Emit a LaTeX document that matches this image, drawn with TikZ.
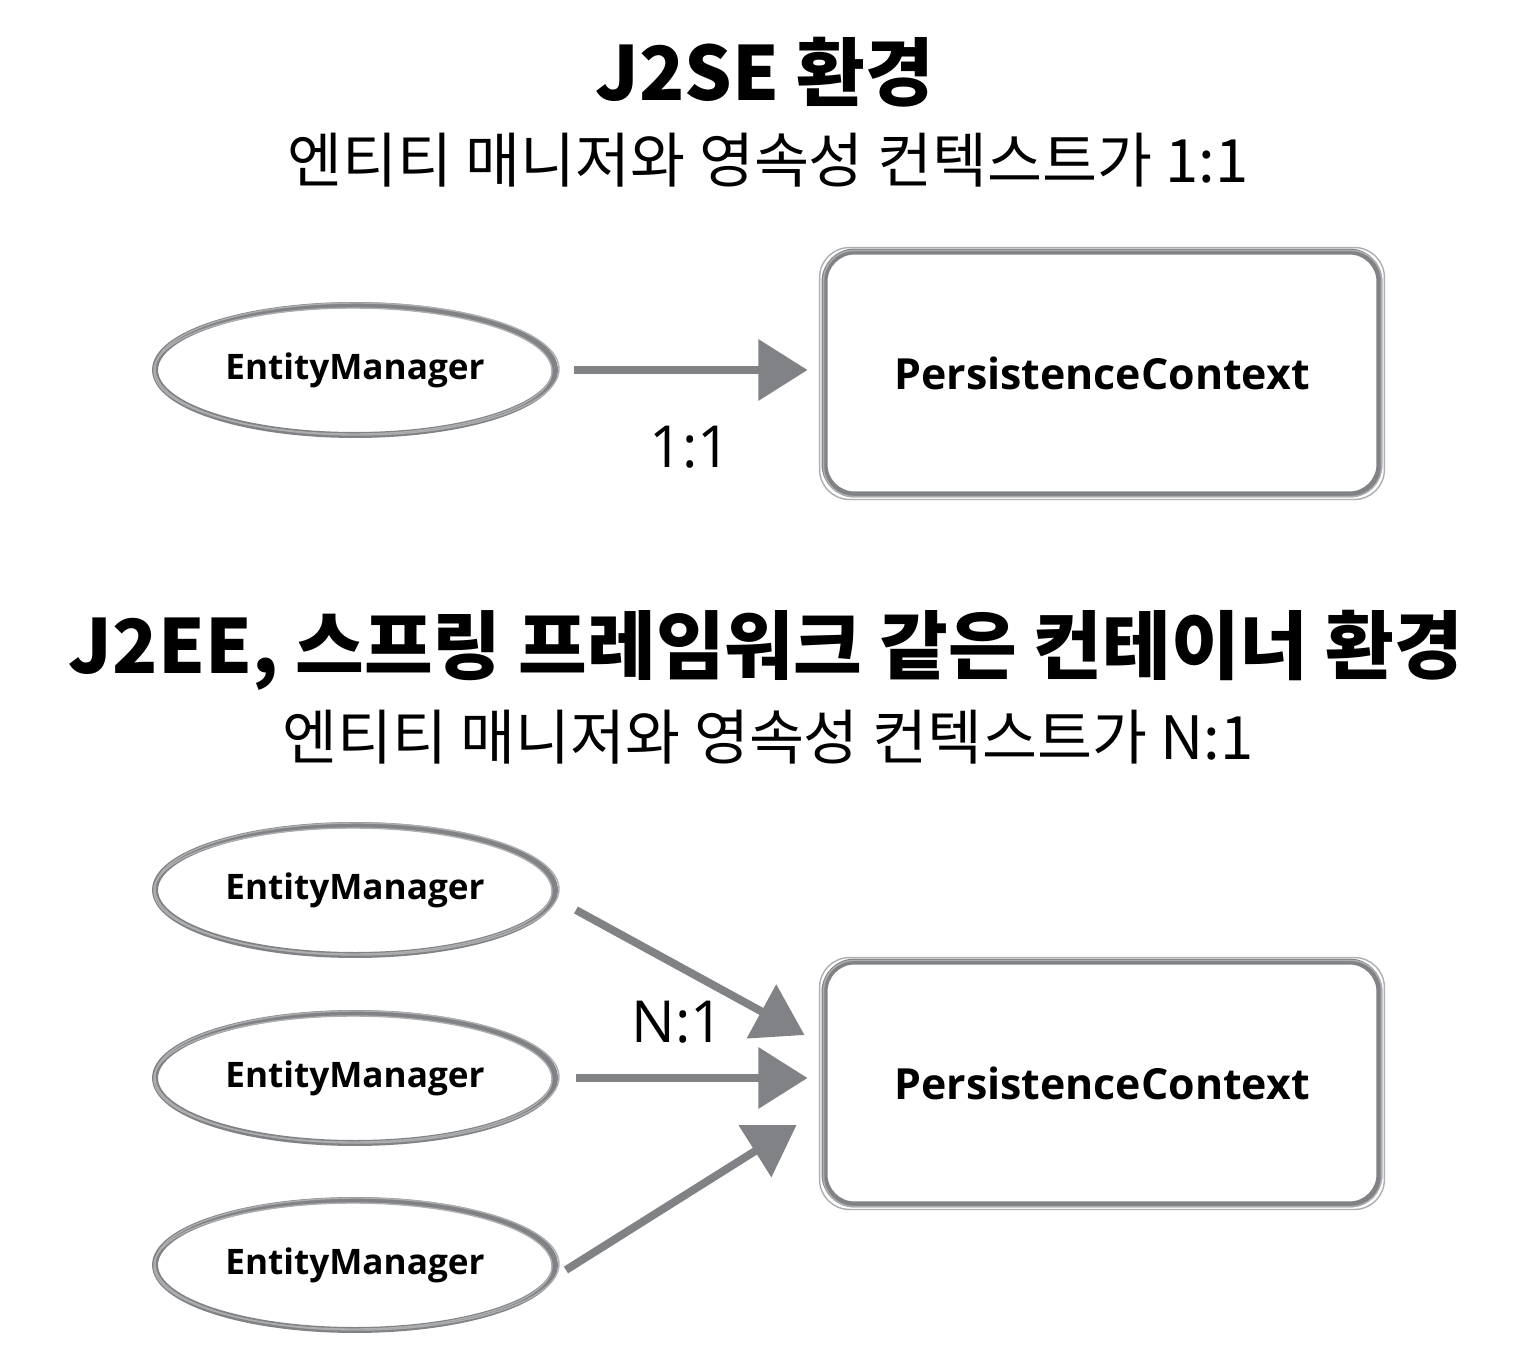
\documentclass[tikz,border=0pt]{standalone}
\usepackage{fontspec}
\setmainfont{Open Sans}
\newfontfamily\kr{Noto Sans CJK KR}
\usetikzlibrary{shapes.geometric,arrows.meta}
\definecolor{sk}{HTML}{808285}
\tikzset{
  emnode/.style={ellipse,draw=sk,line width=3.4pt,minimum width=8cm,minimum height=2.6cm,inner sep=0pt,font=\fontsize{20}{24}\selectfont\bfseries},
  pcnode/.style={rectangle,rounded corners=0.6cm,draw=sk,line width=3.4pt,minimum width=11.1cm,minimum height=4.86cm,inner sep=0pt,font=\fontsize{24.4}{28}\selectfont\bfseries},
  rough/.style={draw=sk!65,line width=0.8pt},
  arr/.style={draw=sk,line width=4.5pt,-{Triangle[length=28pt,width=34pt]}},
  title/.style={font=\kr\fontsize{42.5}{48}\selectfont\bfseries},
  subt/.style={font=\kr\fontsize{34}{40}\selectfont},
  lbl/.style={font=\fontsize{33}{38}\selectfont}
}
\begin{document}
\begin{tikzpicture}[x=0.02cm,y=-0.02cm]
\useasboundingbox (0,0) rectangle (1516,1362);
\node[title] (t1) at (765,72) {J2SE 환경};
\node[subt] (s1) at (768,160) {엔티티 매니저와 영속성 컨텍스트가 1:1};
\node[emnode] (e1) at (355,370) {EntityManager};
\node[pcnode] (p1) at (1102,373) {PersistenceContext};
\draw[arr] ([shift={(16,0)}]e1.east) -- ([shift={(-14,-3)}]p1.west);
\node[lbl] (l1) at (690,447) {1:1};

\node[title] (t2) at (766,650) {J2EE, 스프링 프레임워크 같은 컨테이너 환경};
\node[subt] (s2) at (768,737) {엔티티 매니저와 영속성 컨텍스트가 N:1};
\node[emnode] (e2) at (355,890) {EntityManager};
\node[emnode] (e3) at (355,1078) {EntityManager};
\node[emnode] (e4) at (355,1265) {EntityManager};
\node[pcnode] (p2) at (1102,1083) {PersistenceContext};
\draw[arr] ([shift={(18,20)}]e2.east) -- ([shift={(-17,-48)}]p2.west);
\draw[arr] ([shift={(18,0)}]e3.east) -- ([shift={(-14,-5)}]p2.west);
\draw[arr] ([shift={(8,5)}]e4.east) -- ([shift={(-25,42)}]p2.west);
\node[lbl] (l2) at (678,1022) {N:1};

% sketchy overlays
\foreach \n in {e1,e2,e3,e4}{
  \draw[rough] ([shift={(2,-1)}]\n.center) ellipse [x radius=202,y radius=66];
  \draw[rough] ([shift={(-2,1)}]\n.center) ellipse [x radius=199,y radius=63];
}
\foreach \n in {p1,p2}{
  \draw[rough,rounded corners=0.6cm] ([shift={(-2,-1)}]\n.north west) rectangle ([shift={(2,2)}]\n.south east);
  \draw[rough,rounded corners=0.6cm] ([shift={(2,2)}]\n.north west) rectangle ([shift={(-1,-1)}]\n.south east);
}
\end{tikzpicture}
\end{document}
